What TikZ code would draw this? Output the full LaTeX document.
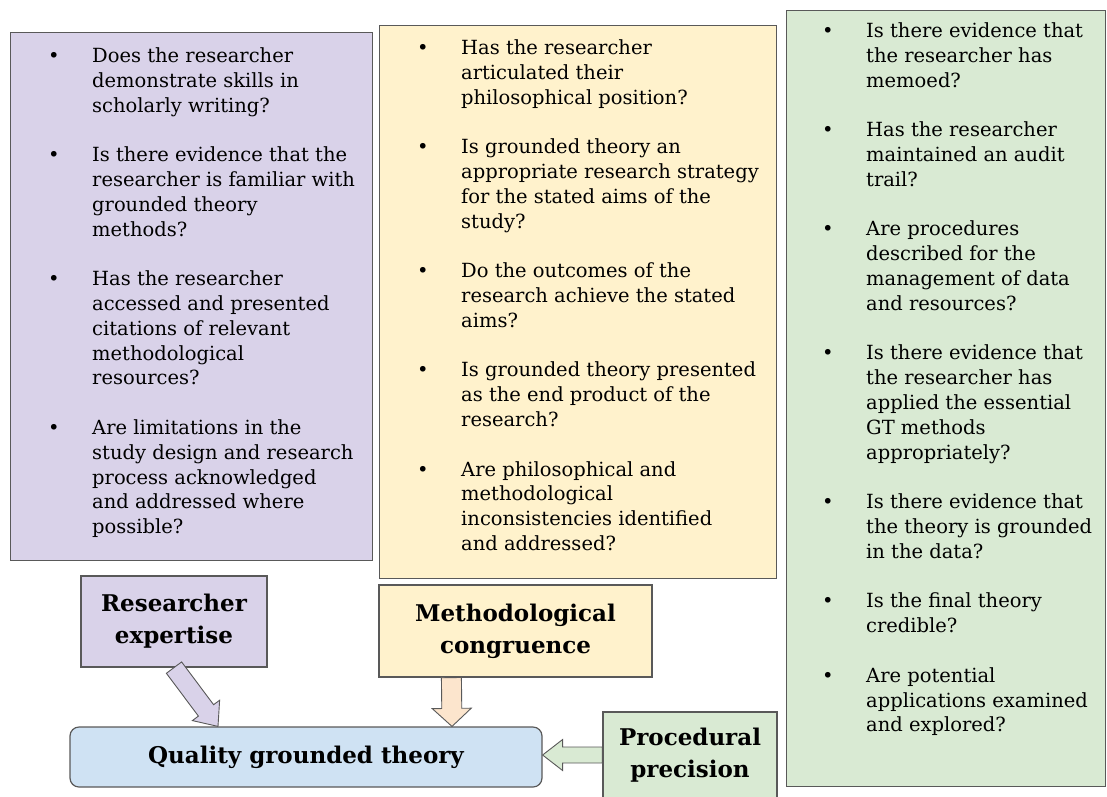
\documentclass[tikz,border=0pt]{standalone}
\usepackage{fontspec}
\setmainfont{DejaVu Serif}
\usepackage{tikz}
\usetikzlibrary{calc}
\usetikzlibrary{positioning}

\definecolor{lilac}{HTML}{D9D2E9}
\definecolor{cream}{HTML}{FFF2CC}
\definecolor{mint}{HTML}{D9EAD3}
\definecolor{sky}{HTML}{CFE2F3}
\definecolor{peach}{HTML}{FCE5CD}
\definecolor{edge}{HTML}{595959}

\newcommand{\qfont}{\fontsize{19.5}{24.8}\selectfont}
\newcommand{\hfont}{\bfseries\fontsize{23}{32}\selectfont}
\newcommand{\blt}{\textbullet}
% block arrow: fill, from, to, half shaft, half head, head length
\newcommand{\blockarrow}[6]{%
  \draw[arrowline, fill=#1]
    ($(#2)!#4!90:(#3)$) -- ($(#3)!#6!(#2)!#4!90:(#3)$) -- ($(#3)!#6!(#2)!#5!90:(#3)$)
    -- (#3)
    -- ($(#3)!#6!(#2)!#5!-90:(#3)$) -- ($(#3)!#6!(#2)!#4!-90:(#3)$) -- ($(#2)!#4!-90:(#3)$) -- cycle;
}

\begin{document}
\begin{tikzpicture}[x=1pt, y=-1pt]

    % TikZ styles for drawing %%%%%%%%%%%%%%%%%%%%%%%%%%%%%%%%%%%%%%%%%%%%%%%%%%%%%%
    \tikzstyle{panel} = [draw=edge, line width=1.2pt, inner sep=0pt, anchor=north west]
    \tikzstyle{qlist} = [inner sep=0pt, anchor=north west, font=\qfont]
    \tikzstyle{heading} = [draw=edge, line width=1.2pt, align=center, font=\hfont, inner sep=0pt]
    \tikzstyle{arrowline} = [draw=edge, line width=0.9pt, line join=miter]

    \useasboundingbox (0,0) rectangle (1107,796);

    % Question panels %%%%%%%%%%%%%%%%%%%%%%%%%%%%%%%%%%%%%%%%%%%%%%%%%%%%%%%%%%%%%%%%%
    \node[panel, fill=lilac, minimum width=362pt, minimum height=528pt] (expbox) at (10,32) {};
    \node[panel, fill=cream, minimum width=397pt, minimum height=553pt] (congbox) at (379,25) {};
    \node[panel, fill=mint, minimum width=319pt, minimum height=776pt] (precbox) at (786,10) {};

    \node[qlist] (explist) at (48,45) {\begin{tabular}{@{}p{44pt}@{}l@{}}
      \blt & Does the researcher\\
           & demonstrate skills in\\
           & scholarly writing?\\
           & \\
      \blt & Is there evidence that the\\
           & researcher is familiar with\\
           & grounded theory\\
           & methods?\\
           & \\
      \blt & Has the researcher\\
           & accessed and presented\\
           & citations of relevant\\
           & methodological\\
           & resources?\\
           & \\
      \blt & Are limitations in the\\
           & study design and research\\
           & process acknowledged\\
           & and addressed where\\
           & possible?
    \end{tabular}};

    \node[qlist] (conglist) at (417,37) {\begin{tabular}{@{}p{44pt}@{}l@{}}
      \blt & Has the researcher\\
           & articulated their\\
           & philosophical position?\\
           & \\
      \blt & Is grounded theory an\\
           & appropriate research strategy\\
           & for the stated aims of the\\
           & study?\\
           & \\
      \blt & Do the outcomes of the\\
           & research achieve the stated\\
           & aims?\\
           & \\
      \blt & Is grounded theory presented\\
           & as the end product of the\\
           & research?\\
           & \\
      \blt & Are philosophical and\\
           & methodological\\
           & inconsistencies identified\\
           & and addressed?
    \end{tabular}};

    \node[qlist] (preclist) at (822,20) {\begin{tabular}{@{}p{44pt}@{}l@{}}
      \blt & Is there evidence that\\
           & the researcher has\\
           & memoed?\\
           & \\
      \blt & Has the researcher\\
           & maintained an audit\\
           & trail?\\
           & \\
      \blt & Are procedures\\
           & described for the\\
           & management of data\\
           & and resources?\\
           & \\
      \blt & Is there evidence that\\
           & the researcher has\\
           & applied the essential\\
           & GT methods\\
           & appropriately?\\
           & \\
      \blt & Is there evidence that\\
           & the theory is grounded\\
           & in the data?\\
           & \\
      \blt & Is the final theory\\
           & credible?\\
           & \\
      \blt & Are potential\\
           & applications examined\\
           & and explored?
    \end{tabular}};

    % Headings %%%%%%%%%%%%%%%%%%%%%%%%%%%%%%%%%%%%%%%%%%%%%%%%%%%%%%%%%%%%%%%%%%%%%%%%
    \node[heading, fill=lilac, minimum width=186pt, minimum height=91pt] (expert) at (174,621.5) {Researcher\\expertise};
    \node[heading, fill=cream, minimum width=273pt, minimum height=92pt] (congru) at (515.5,631) {Methodological\\congruence};
    \node[heading, fill=mint, minimum width=174pt, minimum height=86pt] (precis) at (690,755) {Procedural\\precision};
    \node[heading, fill=sky, rounded corners=9pt, minimum width=472pt, minimum height=60pt] (quality) at (306,757) {Quality grounded theory};

    % Now link the nodes %%%%%%%%%%%%%%%%%%%%%%%%%%%%%%%%%%%%%%%%%%%%%%%%%%%%%%%%%%%%%%%%
    \coordinate (exptip) at ($(quality.north)+(-88,0)$);
    \coordinate (congtail) at ($(congru.south west)+(73,0)$);
    \coordinate (congtip) at ($(quality.north)+(146,0)$);
    \coordinate (prectip) at (quality.east |- precis.west);
    \blockarrow{lilac}{expert.south}{exptip}{9.5pt}{17pt}{20pt}
    \blockarrow{peach}{congtail}{congtip}{10pt}{19.5pt}{18pt}
    \blockarrow{mint}{precis.west}{prectip}{8pt}{15.5pt}{20pt}

\end{tikzpicture}
\end{document}
